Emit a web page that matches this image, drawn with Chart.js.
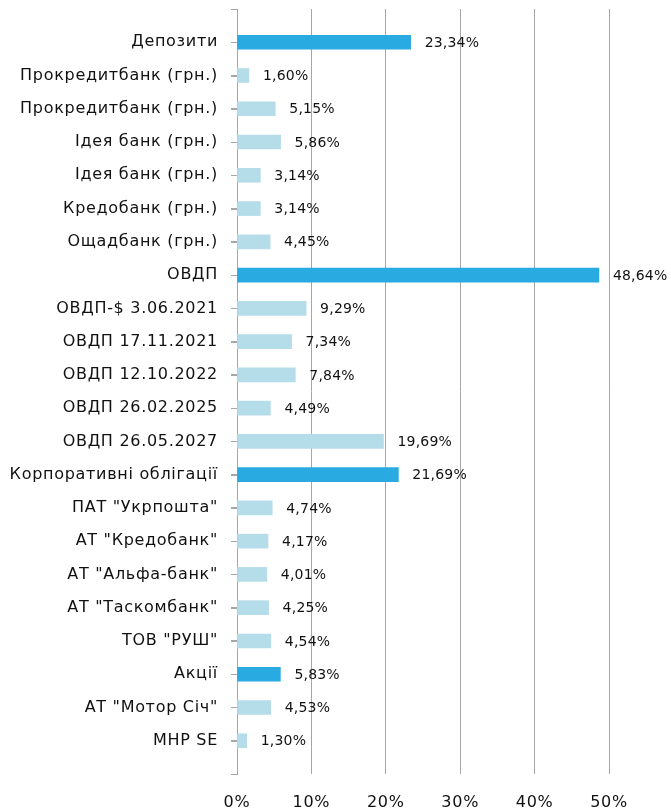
<!DOCTYPE html>
<html>
<head>
<meta charset="utf-8">
<script src="https://cdn.jsdelivr.net/npm/chart.js@4/dist/chart.umd.min.js"></script>
<style>
  html, body { margin: 0; padding: 0; background: #fff; }
  #wrap { width: 671px; height: 808px; }
</style>
</head>
<body>
<div id="wrap"><canvas id="barChart"></canvas></div>
<script>
// categories (empty ones at both ends keep the axis brackets like the original)
const labels = [
  '',
  'Депозити',
  'Прокредитбанк (грн.)',
  'Прокредитбанк (грн.)',
  'Ідея банк (грн.)',
  'Ідея банк (грн.)',
  'Кредобанк (грн.)',
  'Ощадбанк (грн.)',
  'ОВДП',
  'ОВДП-$ 3.06.2021',
  'ОВДП 17.11.2021',
  'ОВДП 12.10.2022',
  'ОВДП 26.02.2025',
  'ОВДП 26.05.2027',
  'Корпоративні облігації',
  'ПАТ "Укрпошта"',
  'АТ "Кредобанк"',
  'АТ "Альфа-банк"',
  'АТ "Таскомбанк"',
  'ТОВ "РУШ"',
  'Акції',
  'АТ "Мотор Січ"',
  'MHP SE',
  ''
];
const shares = [null, 23.34, 1.60, 5.15, 5.86, 3.14, 3.14, 4.45, 48.64, 9.29, 7.34, 7.84, 4.49, 19.69,
  21.69, 4.74, 4.17, 4.01, 4.25, 4.54, 5.83, 4.53, 1.30, null];
// 1 = group total (dark bar), 0 = item
const isGroup = [0, 1, 0, 0, 0, 0, 0, 0, 1, 0, 0, 0, 0, 0, 1, 0, 0, 0, 0, 0, 1, 0, 0, 0];
const xTicks = [0, 10, 20, 30, 40, 50];

const DARK = '#29abe2';
const LIGHT = '#b5dde9';
const GRID = '#a6a6a6';

const fmt = v => v.toFixed(2).replace('.', ',') + '%';

// the original labels are a bit letter-spaced (canvas resize resets it, so set it every time)
const spacing = {
  id: 'spacing',
  beforeUpdate(chart) { chart.ctx.letterSpacing = '0.7px'; },
  beforeDraw(chart) { chart.ctx.letterSpacing = '0.7px'; }
};

// small tick marks on the category axis + value labels at bar ends
const valueLabels = {
  id: 'valueLabels',
  afterDatasetsDraw(chart) {
    const ctx = chart.ctx;
    const yScale = chart.scales.y;
    ctx.save();
    ctx.strokeStyle = GRID;
    ctx.lineWidth = 1;
    ctx.beginPath();
    yScale.ticks.forEach((t, i) => {
      const py = Math.round(yScale.getPixelForTick(i)) + 0.5;
      ctx.moveTo(yScale.right - 6, py);
      ctx.lineTo(yScale.right, py);
    });
    ctx.stroke();

    const meta = chart.getDatasetMeta(0);
    ctx.letterSpacing = '0.2px';
    ctx.font = '14px "DejaVu Sans"';
    ctx.fillStyle = '#111';
    ctx.textAlign = 'left';
    ctx.textBaseline = 'middle';
    meta.data.forEach((bar, i) => {
      const v = shares[i];
      if (v == null) return;
      ctx.fillText(fmt(v), bar.x + 14, bar.y + 1);
    });
    ctx.restore();
  }
};

const ctx = document.getElementById('barChart').getContext('2d');
const barChart = new Chart(ctx, {
  type: 'bar',
  data: {
    labels: labels,
    datasets: [{
      data: shares,
      backgroundColor: isGroup.map(g => g ? DARK : LIGHT),
      borderWidth: 0,
      barThickness: 14
    }]
  },
  options: {
    indexAxis: 'y',
    responsive: true,
    maintainAspectRatio: false,
    animation: false,
    layout: { padding: { top: 9, right: 62, left: 0, bottom: 0 } },
    scales: {
      x: {
        min: 0,
        max: 50,
        afterBuildTicks: s => { s.ticks = xTicks.map(v => ({ value: v })); },
        ticks: {
          callback: v => v + '%',
          font: { family: 'DejaVu Sans', size: 16 },
          color: '#111',
          padding: 19,
          maxRotation: 0
        },
        grid: { color: GRID, drawTicks: false },
        border: { display: false },
        afterFit: s => { s.height = 34; }
      },
      y: {
        offset: false,
        ticks: {
          font: { family: 'DejaVu Sans', size: 16 },
          color: '#111',
          padding: 13,
          autoSkip: false
        },
        grid: { offset: false, drawOnChartArea: false, drawTicks: true, tickLength: 6, color: GRID },
        border: { display: true, color: GRID },
        afterFit: s => { s.width = 237; s.paddingTop = 0; s.paddingBottom = 0; }
      }
    },
    plugins: {
      legend: { display: false },
      tooltip: { enabled: false }
    }
  },
  plugins: [spacing, valueLabels]
});
</script>
</body>
</html>
